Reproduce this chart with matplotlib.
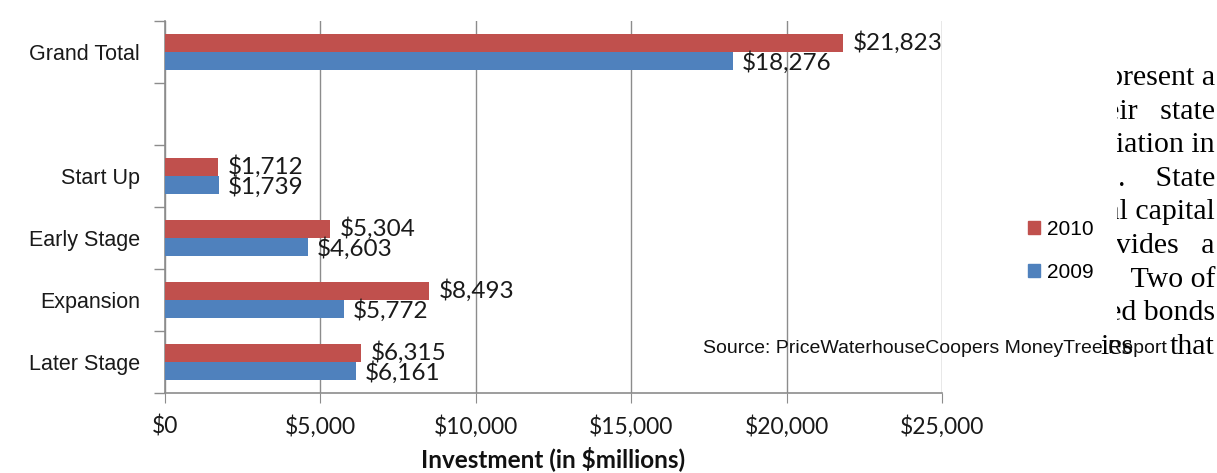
import matplotlib.pyplot as plt
from matplotlib.patches import Patch, Rectangle

# venture capital investment by stage, $ millions
stages = ["Grand Total", "Start Up", "Early Stage", "Expansion", "Later Stage"]
slots = [0, 2, 3, 4, 5]          # slot 1 is left empty between total and stages
inv_2010 = [21823, 1712, 5304, 8493, 6315]
inv_2009 = [18276, 1739, 4603, 5772, 6161]
xticks = [0, 5000, 10000, 15000, 20000, 25000]

red = "#C0504D"
blue = "#4F81BD"
grid_gray = "#8C8C8C"

W, H = 1217, 473
fig = plt.figure(figsize=(W / 100, H / 100), dpi=100)
ax = fig.add_axes([165 / W, 1 - 393 / H, (942 - 165) / W, (393 - 21) / H])

bh = 0.29
ax.barh([s - bh / 2 for s in slots], inv_2010, height=bh, color=red, zorder=3)
ax.barh([s + bh / 2 for s in slots], inv_2009, height=bh, color=blue, zorder=3)

label_font = dict(family=["Lato", "DejaVu Sans"], fontsize=17.5, color="#1a1a1a")
for s, v in zip(slots, inv_2010):
    ax.annotate(f"${v:,}", (v, s - bh / 2), xytext=(7, 0), textcoords="offset points",
                va="center", ha="left", zorder=5, **label_font)
for s, v in zip(slots, inv_2009):
    ax.annotate(f"${v:,}", (v, s + bh / 2 + 0.03), xytext=(6, 0), textcoords="offset points",
                va="center", ha="left", zorder=5, **label_font)

ax.set_xlim(0, 25000)
ax.set_ylim(5.5, -0.5)
ax.set_xticks(xticks)
ax.set_xticklabels([f"${t:,}" for t in xticks], family=["Lato", "DejaVu Sans"],
                   fontsize=16.5, color="#1a1a1a")
ax.tick_params(axis="x", length=7, color=grid_gray, pad=9)

# category names at slot centres, tick marks at slot edges
ax.set_yticks(slots)
ax.set_yticklabels(stages, family="Liberation Sans", fontsize=15.5, color="#1a1a1a")
ax.tick_params(axis="y", which="major", length=0, pad=18)
ax.set_yticks([i - 0.5 for i in range(7)], minor=True)
ax.tick_params(axis="y", which="minor", length=8, color=grid_gray, width=1)

ax.xaxis.grid(True, color=grid_gray, linewidth=1, zorder=0)
ax.set_axisbelow(True)
for side in ["top", "right"]:
    ax.spines[side].set_visible(False)
for side in ["left", "bottom"]:
    ax.spines[side].set_color(grid_gray)
    ax.spines[side].set_linewidth(1.2)

ax.set_xlabel("Investment (in $millions)", family=["Lato", "DejaVu Sans"],
              fontsize=17.5, fontweight="bold", color="#111111", labelpad=6)

handles = [Patch(color=red, label="2010"), Patch(color=blue, label="2009")]
fig.legend(handles=handles, loc="center left", bbox_to_anchor=(1009 / W, 1 - 251 / H),
           frameon=False, handlelength=0.6, handleheight=0.6, handletextpad=0.3,
           labelspacing=1.15, prop={"family": "Liberation Sans", "size": 15})

fig.text(703 / W, 1 - 348 / H, "Source: PriceWaterhouseCoopers MoneyTree Report",
         family="Liberation Sans", fontsize=14, va="center", ha="left", color="#111111",
         zorder=4)

# body text of the page running down the right margin, behind the chart box
body_lines = ["represent a", "their   state", "association in", "programs.    State",
              "institutional capital", "provides   a", "  Two of", "backed bonds"]
serif = dict(family="Liberation Serif", fontsize=21.5, va="center", color="black", zorder=-2)
for i, line in enumerate(body_lines):
    y = 78 + i * 33.6
    fig.text(1215 / W, 1 - y / H, line, ha="right", **serif)
last_y = 78 + len(body_lines) * 33.6
fig.text(1100 / W, 1 - last_y / H, "ies", ha="left", **serif)
fig.text(1215 / W, 1 - last_y / H, "that", ha="right", **serif)

# white chart box that hides the start of each body line
fig.add_artist(Rectangle((0, 1 - 330 / H), 1117 / W, 330 / H, transform=fig.transFigure,
                         facecolor="white", edgecolor="none", zorder=-1))

fig.savefig("out.png", dpi=100, facecolor="white")
